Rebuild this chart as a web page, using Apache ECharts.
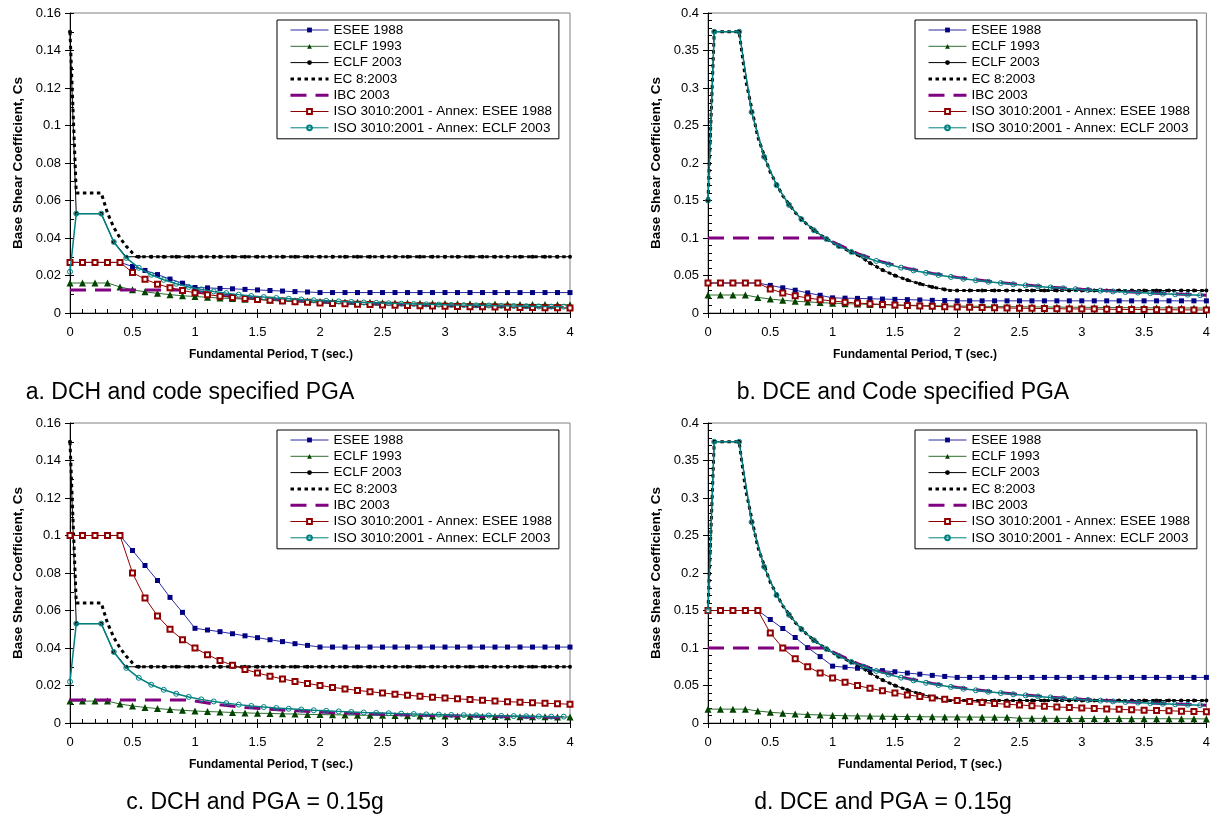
<!DOCTYPE html>
<html>
<head>
<meta charset="utf-8">
<script src="https://cdn.jsdelivr.net/npm/echarts@6/dist/echarts.min.js"></script>
<style>
html, body { margin: 0; padding: 0; background: #fff; }
#chart { width: 1213px; height: 815px; }
</style>
</head>
<body>
<div id="chart"></div>
<script>
'use strict';

var seriesNames = ['ESEE 1988', 'ECLF 1993', 'ECLF 2003', 'EC 8:2003', 'IBC 2003',
  'ISO 3010:2001 - Annex: ESEE 1988', 'ISO 3010:2001 - Annex: ECLF 2003'];
var panelTitles = ['a. DCH and code specified PGA', 'b. DCE and Code specified PGA',
  'c. DCH and PGA = 0.15g', 'd. DCE and PGA = 0.15g'];
var xTitle = 'Fundamental Period, T (sec.)';
var yTitle = 'Base Shear Coefficient, Cs';

// periods (sec.)
var T10 = [0,0.1,0.2,0.3,0.4,0.5,0.6,0.7,0.8,0.9,1,1.1,1.2,1.3,1.4,1.5,1.6,1.7,1.8,1.9,2,
  2.1,2.2,2.3,2.4,2.5,2.6,2.7,2.8,2.9,3,3.1,3.2,3.3,3.4,3.5,3.6,3.7,3.8,3.9,4];
var T_ISO = [0,0.05,0.25,0.35,0.45,0.55,0.65,0.75,0.85,0.95,1.05,1.15,1.25,1.35,1.45,1.55,1.65,1.75,1.85,1.95,
  2.05,2.15,2.25,2.35,2.45,2.55,2.65,2.75,2.85,2.95,3.05,3.15,3.25,3.35,3.45,3.55,3.65,3.75,3.85,3.95];
var T_ECLF03 = [0,0.05,0.25,0.35,0.45,0.55,0.65,0.75,0.85,0.95,1.05,1.15,1.2,1.3,1.4,1.5,1.6,1.7,1.8,1.9,2,
  2.1,2.2,2.3,2.4,2.5,2.6,2.7,2.8,2.9,3,3.1,3.2,3.3,3.4,3.5,3.6,3.7,3.8,3.9,4];
var T_EC8_ac = [0,0.05,0.25,0.3,0.35,0.4,0.45,0.5,0.533,4];
var T_EC8_bd = [0,0.05,0.25,0.3,0.4,0.5,0.6,0.7,0.8,0.9,1,1.1,1.2,1.3,1.4,1.5,1.6,1.7,1.8,1.94,4];
var T_IBC = [0,0.95,1,1.2,1.4,1.6,1.8,2,2.25,2.5,2.75,3,3.25,3.5,3.75,4];

// curves shared by panels a & c (DCH) and b & d (DCE)
var eclf03_ac = [0.15,0.053,0.053,0.0379,0.03,0.03,0.03,0.03,0.03,0.03,0.03,0.03,0.03,0.03,0.03,0.03,0.03,0.03,0.03,0.03,0.03,
  0.03,0.03,0.03,0.03,0.03,0.03,0.03,0.03,0.03,0.03,0.03,0.03,0.03,0.03,0.03,0.03,0.03,0.03,0.03,0.03];
var eclf03_bd = [0.15,0.375,0.375,0.2679,0.2083,0.1705,0.1442,0.125,0.1103,0.0987,0.0893,0.0815,0.0781,0.0666,0.0574,0.05,
  0.0439,0.0389,0.0347,0.0312,0.03,0.03,0.03,0.03,0.03,0.03,0.03,0.03,0.03,0.03,0.03,0.03,0.03,0.03,0.03,0.03,0.03,0.03,0.03,0.03,0.03];
var ec8_ac = [0.15,0.064,0.064,0.0533,0.0457,0.04,0.0356,0.032,0.03,0.03];
var ec8_bd = [0.15,0.375,0.375,0.3125,0.2344,0.1875,0.1563,0.1339,0.1172,0.1042,0.0938,0.0852,0.0781,0.0666,0.0574,0.05,
  0.0439,0.0389,0.0347,0.03,0.03];
var ibc_ac = [0.0123,0.0123,0.0117,0.0097,0.0083,0.0073,0.0065,0.0058,0.0052,0.0047,0.0042,0.0039,0.0036,0.0033,0.0031,0.0029];
var ibc_bd = [0.1,0.1,0.095,0.0792,0.0679,0.0594,0.0528,0.0475,0.0422,0.038,0.0345,0.0317,0.0292,0.0271,0.0253,0.0238];
var isoEclf_ac = [0.022,0.053,0.053,0.0379,0.0294,0.0241,0.0204,0.0177,0.0156,0.0139,0.0126,0.0115,0.0106,0.0098,0.0091,0.0085,
  0.008,0.0076,0.0072,0.0068,0.0065,0.0062,0.0059,0.0056,0.0054,0.0052,0.005,0.0048,0.0046,0.0045,0.0043,0.0042,0.0041,0.004,
  0.0038,0.0037,0.0036,0.0035,0.0034,0.0034];
var isoEclf_bd = [0.15,0.375,0.375,0.2679,0.2083,0.1705,0.1442,0.125,0.1103,0.0987,0.0893,0.0815,0.075,0.0694,0.0647,0.0605,
  0.0568,0.0536,0.0507,0.0481,0.0457,0.0436,0.0417,0.0399,0.0383,0.0368,0.0354,0.0341,0.0329,0.0318,0.0307,0.0298,0.0288,0.028,
  0.0272,0.0264,0.0257,0.025,0.0244,0.0237];

// panel a
var esee_a = [0.027,0.027,0.027,0.027,0.027,0.0248,0.0227,0.0205,0.0181,0.0159,0.0136,0.0134,0.0131,0.0129,0.0126,0.0123,0.012,
  0.0117,0.0114,0.0112,0.0109,0.0109,0.0109,0.0109,0.0109,0.0109,0.0109,0.0109,0.0109,0.0109,0.0109,0.0109,0.0109,0.0109,0.0109,
  0.0109,0.0109,0.0109,0.0109,0.0109,0.0109];
var eclf93_a = [0.016,0.016,0.016,0.016,0.0139,0.0124,0.0113,0.0105,0.0098,0.0092,0.0088,0.0084,0.008,0.0077,0.0074,0.0072,0.0069,
  0.0067,0.0065,0.0064,0.0062,0.006,0.0059,0.0058,0.0057,0.0055,0.0054,0.0053,0.0052,0.0051,0.0051,0.005,0.0049,0.0048,0.0048,
  0.0047,0.0046,0.0046,0.0045,0.0044,0.0044];
var isoEsee_a = [0.027,0.027,0.027,0.027,0.027,0.0216,0.018,0.0154,0.0135,0.012,0.0108,0.0098,0.009,0.0083,0.0077,0.0072,0.0068,
  0.0064,0.006,0.0057,0.0054,0.0051,0.0049,0.0047,0.0045,0.0043,0.0042,0.004,0.0039,0.0037,0.0036,0.0035,0.0034,0.0033,0.0032,
  0.0031,0.003,0.0029,0.0028,0.0028,0.0027];

// panel b
var esee_b = [0.04,0.04,0.04,0.04,0.04,0.0368,0.0336,0.0304,0.0268,0.0236,0.0202,0.0198,0.0195,0.019,0.0186,0.0182,0.0178,0.0174,
  0.0169,0.0166,0.0162,0.0162,0.0162,0.0162,0.0162,0.0162,0.0162,0.0162,0.0162,0.0162,0.0162,0.0162,0.0162,0.0162,0.0162,0.0162,
  0.0162,0.0162,0.0162,0.0162,0.0162];
var eclf93_b = [0.024,0.024,0.024,0.024,0.0208,0.0186,0.017,0.0157,0.0147,0.0139,0.0131,0.0125,0.012,0.0115,0.0111,0.0107,0.0104,
  0.0101,0.0098,0.0095,0.0093,0.0091,0.0089,0.0087,0.0085,0.0083,0.0082,0.008,0.0079,0.0077,0.0076,0.0075,0.0073,0.0072,0.0071,
  0.007,0.0069,0.0068,0.0067,0.0067,0.0066];
var isoEsee_b = [0.04,0.04,0.04,0.04,0.04,0.032,0.0267,0.0229,0.02,0.0178,0.016,0.0145,0.0133,0.0123,0.0114,0.0107,0.01,0.0094,
  0.0089,0.0084,0.008,0.0076,0.0073,0.007,0.0067,0.0064,0.0062,0.0059,0.0057,0.0055,0.0053,0.0052,0.005,0.0048,0.0047,0.0046,
  0.0044,0.0043,0.0042,0.0041,0.004];

// panel c
var esee_c = [0.1,0.1,0.1,0.1,0.1,0.092,0.084,0.076,0.067,0.059,0.0505,0.0496,0.0487,0.0476,0.0465,0.0455,0.0444,0.0434,0.0423,
  0.0414,0.0405,0.0405,0.0405,0.0405,0.0405,0.0405,0.0405,0.0405,0.0405,0.0405,0.0405,0.0405,0.0405,0.0405,0.0405,0.0405,0.0405,
  0.0405,0.0405,0.0405,0.0405];
var eclf93_c = [0.0117,0.0117,0.0117,0.0117,0.0101,0.0091,0.0083,0.0077,0.0072,0.0068,0.0064,0.0061,0.0059,0.0056,0.0054,0.0052,
  0.0051,0.0049,0.0048,0.0046,0.0045,0.0044,0.0043,0.0042,0.0041,0.0041,0.004,0.0039,0.0038,0.0038,0.0037,0.0036,0.0036,0.0035,
  0.0035,0.0034,0.0034,0.0033,0.0033,0.0032,0.0032];
var isoEsee_c = [0.1,0.1,0.1,0.1,0.1,0.08,0.0667,0.0571,0.05,0.0444,0.04,0.0364,0.0333,0.0308,0.0286,0.0267,0.025,0.0235,0.0222,
  0.0211,0.02,0.019,0.0182,0.0174,0.0167,0.016,0.0154,0.0148,0.0143,0.0138,0.0133,0.0129,0.0125,0.0121,0.0118,0.0114,0.0111,
  0.0108,0.0105,0.0103,0.01];

// panel d
var esee_d = [0.15,0.15,0.15,0.15,0.15,0.138,0.126,0.114,0.1005,0.0885,0.0758,0.0744,0.073,0.0714,0.0698,0.0683,0.0666,0.0651,
  0.0635,0.0621,0.0608,0.0608,0.0608,0.0608,0.0608,0.0608,0.0608,0.0608,0.0608,0.0608,0.0608,0.0608,0.0608,0.0608,0.0608,0.0608,
  0.0608,0.0608,0.0608,0.0608,0.0608];
var eclf93_d = [0.0185,0.0185,0.0185,0.0185,0.016,0.0143,0.0131,0.0121,0.0113,0.0107,0.0101,0.0097,0.0094,0.0092,0.009,0.0088,
  0.0086,0.0084,0.0082,0.0081,0.008,0.0079,0.0078,0.0077,0.0076,0.0063,0.0062,0.0062,0.0061,0.0061,0.006,0.006,0.0059,0.0059,
  0.0058,0.0058,0.0057,0.0057,0.0056,0.0056,0.0055];
var isoEsee_d = [0.15,0.15,0.15,0.15,0.15,0.12,0.1,0.0857,0.075,0.0667,0.06,0.0545,0.05,0.0462,0.0429,0.04,0.0375,0.0353,0.0333,
  0.0316,0.03,0.0286,0.0273,0.0261,0.025,0.024,0.0231,0.0222,0.0214,0.0207,0.02,0.0194,0.0188,0.0182,0.0176,0.0171,0.0167,
  0.0162,0.0158,0.0154,0.015];

var FONT = '"Liberation Sans", Arial, Helvetica, sans-serif';

var panels = [
  {left: 70, top: 13, yMax: 0.16, yStep: 0.02,
    curves: [[T10, esee_a], [T10, eclf93_a], [T_ECLF03, eclf03_ac], [T_EC8_ac, ec8_ac], [T_IBC, ibc_ac],
      [T10, isoEsee_a], [T_ISO, isoEclf_ac]]},
  {left: 708, top: 13, yMax: 0.4, yStep: 0.05,
    curves: [[T10, esee_b], [T10, eclf93_b], [T_ECLF03, eclf03_bd], [T_EC8_bd, ec8_bd], [T_IBC, ibc_bd],
      [T10, isoEsee_b], [T_ISO, isoEclf_bd]]},
  {left: 70, top: 423, yMax: 0.16, yStep: 0.02,
    curves: [[T10, esee_c], [T10, eclf93_c], [T_ECLF03, eclf03_ac], [T_EC8_ac, ec8_ac], [T_IBC, ibc_ac],
      [T10, isoEsee_c], [T_ISO, isoEclf_ac]]},
  {left: 708, top: 423, yMax: 0.4, yStep: 0.05,
    curves: [[T10, esee_d], [T10, eclf93_d], [T_ECLF03, eclf03_bd], [T_EC8_bd, ec8_bd], [T_IBC, ibc_bd],
      [T10, isoEsee_d], [T_ISO, isoEclf_bd]]}
];
var titlePos = [[190, 393], [903, 393], [255, 803], [883, 803]];
var xTitlePos = [[271, 355], [915, 355], [271, 765], [920, 765]];

// look of each series, same order as seriesNames
var looks = [
  {symbol: 'rect', symbolSize: 5, itemStyle: {color: '#000080'}, lineStyle: {color: '#2a2aa8', width: 1}},
  {symbol: 'triangle', symbolSize: 7, itemStyle: {color: '#004400'}, lineStyle: {color: '#2f6e2f', width: 1}},
  {symbol: 'circle', symbolSize: 4, itemStyle: {color: '#000'}, lineStyle: {color: '#000', width: 1}},
  {symbol: 'none', itemStyle: {color: '#000'}, lineStyle: {color: '#000', width: 3, type: [3.5, 3.5], cap: 'butt'}},
  {symbol: 'none', itemStyle: {color: '#800080'}, lineStyle: {color: '#800080', width: 3, type: [16, 9], cap: 'butt'}},
  {symbol: 'emptyRect', symbolSize: 5, itemStyle: {color: '#900000', borderWidth: 1}, lineStyle: {color: '#900000', width: 1}},
  {symbol: 'circle', symbolSize: 5, itemStyle: {color: 'rgba(0,0,0,0)', borderColor: '#008080', borderWidth: 1},
    lineStyle: {color: '#008080', width: 1.5}}
];

function pairs(xs, ys) {
  return xs.map(function (x, i) { return [x, ys[i]]; });
}

var legendData = seriesNames.map(function (name, i) {
  var lk = looks[i];
  var item = {name: name, lineStyle: {color: lk.lineStyle.color, width: lk.lineStyle.width > 2 ? 3 : 1,
    type: lk.lineStyle.type || 'solid'}};
  if (lk.symbol === 'none') {
    item.itemStyle = {color: 'rgba(0,0,0,0)', borderColor: 'rgba(0,0,0,0)'};
  }
  return item;
});

var grid = [], xAxis = [], yAxis = [], series = [], legend = [], graphic = [];

panels.forEach(function (p, g) {
  grid.push({left: p.left, top: p.top, width: 500, height: 300, show: true,
    borderColor: '#808080', borderWidth: 1});
  xAxis.push({gridIndex: g, type: 'value', min: 0, max: 4, interval: 0.5, position: 'bottom',
    axisLine: {show: true, onZero: false, lineStyle: {color: '#000', width: 1}},
    axisTick: {show: true, length: 5, lineStyle: {color: '#000'}},
    axisLabel: {fontSize: 13, color: '#000', margin: 13, fontFamily: FONT},
    splitLine: {show: false}});
  xAxis.push({gridIndex: g, type: 'value', min: 0, max: 4, interval: 0.1, position: 'bottom',
    axisLine: {show: false}, axisLabel: {show: false}, splitLine: {show: false},
    axisTick: {show: true, inside: true, length: 4, lineStyle: {color: '#000'}}});
  yAxis.push({gridIndex: g, type: 'value', min: 0, max: p.yMax, interval: p.yStep, position: 'left',
    axisLine: {show: true, onZero: false, lineStyle: {color: '#000', width: 1}},
    axisTick: {show: true, length: 5, lineStyle: {color: '#000'}},
    axisLabel: {fontSize: 13, color: '#000', margin: 9, fontFamily: FONT},
    splitLine: {show: false},
    name: yTitle, nameLocation: 'middle', nameGap: 45,
    nameTextStyle: {fontSize: 13.5, fontWeight: 'bold', color: '#000', fontFamily: FONT}});
  yAxis.push({gridIndex: g, type: 'value', min: 0, max: p.yMax, interval: 0.01, position: 'left',
    axisLine: {show: false}, axisLabel: {show: false}, splitLine: {show: false},
    axisTick: {show: true, inside: true, length: 4, lineStyle: {color: '#000'}}});

  p.curves.forEach(function (c, i) {
    var lk = looks[i];
    series.push({
      name: seriesNames[i], type: 'line', xAxisIndex: 2 * g, yAxisIndex: 2 * g,
      data: pairs(c[0], c[1]),
      symbol: lk.symbol, symbolSize: lk.symbolSize || 4, showSymbol: lk.symbol !== 'none',
      itemStyle: lk.itemStyle, lineStyle: lk.lineStyle,
      emphasis: {disabled: true}, z: 2 + i * 0.01
    });
  });

  legend.push({
    orient: 'vertical', left: p.left + 207, top: p.top + 7,
    padding: [3, 7, 4, 12], itemWidth: 38, itemHeight: 6, itemGap: 2.3,
    borderColor: '#000', borderWidth: 1, backgroundColor: '#fff',
    selectedMode: false,
    textStyle: {fontSize: 13.5, color: '#000', lineHeight: 14, fontFamily: FONT},
    data: legendData
  });

  graphic.push({type: 'text', x: xTitlePos[g][0], y: xTitlePos[g][1],
    style: {text: xTitle, fill: '#000', font: 'bold 12px ' + FONT, align: 'center', verticalAlign: 'middle'}});
  graphic.push({type: 'text', x: titlePos[g][0], y: titlePos[g][1],
    style: {text: panelTitles[g], fill: '#000', font: '23px ' + FONT, align: 'center', verticalAlign: 'middle'}});
});

var chart = echarts.init(document.getElementById('chart'));
chart.setOption({
  backgroundColor: '#fff',
  animation: false,
  grid: grid,
  xAxis: xAxis,
  yAxis: yAxis,
  legend: legend,
  graphic: graphic,
  series: series
});
</script>
</body>
</html>
